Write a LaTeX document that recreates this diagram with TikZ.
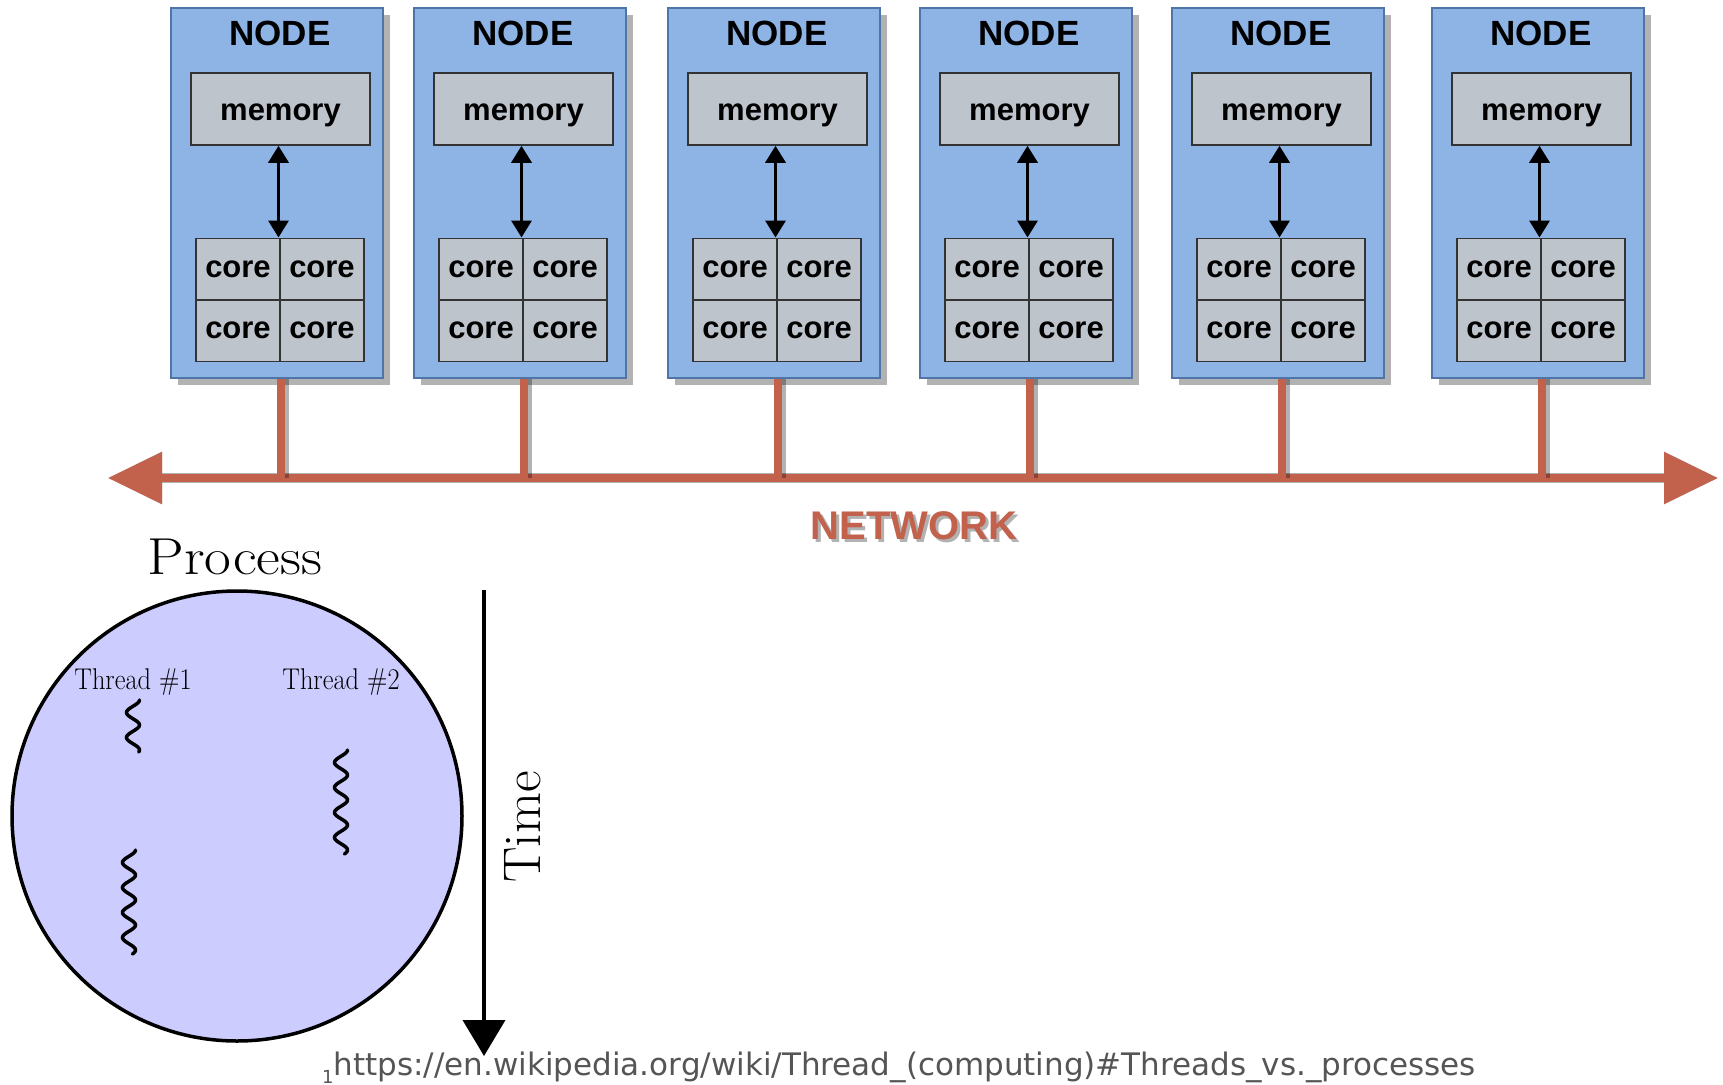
\documentclass[tikz,border=0pt]{standalone}
\usepackage{fontspec}
\newfontfamily\arialf{Liberation Sans}
\newfontfamily\dejavuf{DejaVu Sans}
\usetikzlibrary{arrows.meta,shadows}
\definecolor{nodeblue}{HTML}{8EB4E6}
\definecolor{nodeedge}{HTML}{4E74A8}
\definecolor{boxgray}{HTML}{BEC4CB}
\definecolor{netred}{HTML}{C2614C}
\definecolor{procfill}{HTML}{CCCCFF}
\definecolor{footgray}{HTML}{555555}
\tikzset{
  nodebox/.style={draw=nodeedge, line width=1.5pt, fill=nodeblue, minimum width=212pt, minimum height=370pt, inner sep=0pt,
    drop shadow={shadow xshift=7pt, shadow yshift=-7pt, opacity=0.6}},
  nodetitle/.style={font=\arialf\bfseries\fontsize{35}{35}\selectfont, inner sep=0pt},
  membox/.style={draw=black!80, line width=1.5pt, fill=boxgray, minimum width=179pt, minimum height=72pt, inner sep=0pt,
    text height=22pt, text depth=0pt, font=\arialf\bfseries\fontsize{31}{31}\selectfont},
  corebox/.style={draw=black!80, line width=1.5pt, fill=boxgray, minimum width=84pt, minimum height=61.5pt, inner sep=0pt,
    text height=16pt, text depth=0pt, font=\arialf\bfseries\fontsize{31}{31}\selectfont},
  biarrow/.style={line width=3.5pt, {Triangle[length=17pt,width=20pt]}-{Triangle[length=17pt,width=20pt]}},
  netline/.style={draw=netred, line width=8pt},
  netarrows/.style={{Triangle[length=54pt,width=50pt]}-{Triangle[length=54pt,width=50pt]}},
  netshadow/.style={draw=black, opacity=0.3, line width=10pt},
  nettext/.style={font=\arialf\bfseries\fontsize{40}{40}\selectfont, inner sep=0pt, text=netred},
  wave/.style={line width=3.5pt, line cap=round},
  timearrow/.style={line width=4pt, -{Triangle[length=36pt,width=42pt]}},
}
\begin{document}
\begin{tikzpicture}[x=1pt,y=-1pt]
\useasboundingbox (0,0) rectangle (1723,1084);
\fill[white] (0,0) rectangle (1723,1084);

% network line
\coordinate (netL) at (108,478);
\coordinate (netR) at (1718,478);
\draw[netshadow, netarrows, fill=black, shift={(3,7)}] (netL) -- (netR);
\draw[netline, netarrows, fill=netred] (netL) -- (netR);

\foreach \i/\cx in {1/281, 2/524, 3/778, 4/1030, 5/1282, 6/1542} {
  \node[nodebox] (b\i) at ({\cx-4},193) {};
  \node[nodetitle] (t\i) at ({\cx-1},33.5) {NODE};
  \node[membox] (m\i) at ({\cx-0.5},109) {memory};
  \node[corebox] (ca\i) at ({\cx-43},269) {core};
  \node[corebox] (cb\i) at ({\cx+41},269) {core};
  \node[corebox] (cc\i) at ({\cx-43},330.5) {core};
  \node[corebox] (cd\i) at ({\cx+41},330.5) {core};
  \coordinate (d\i) at (\cx,478);
  \draw[biarrow] ([xshift=-2pt]m\i.south) -- ([xshift=-2pt]m\i.south |- ca\i.north);
  \draw[draw=black, opacity=0.3, line width=8pt] ([xshift=4pt]b\i.south -| d\i) -- ([xshift=4pt]d\i);
  \draw[netline] (b\i.south -| d\i) -- (d\i);
}

% NETWORK label
\node[nettext, text=black, opacity=0.3] (netsh) at (917,529) {NETWORK};
\node[nettext] (netlab) at (914,526) {NETWORK};

% process
\node[anchor=base, font=\fontsize{52}{52}\selectfont, inner sep=0pt] (proc) at (235,574) {\scalebox{1.12}[1]{Process}};
\node[circle, draw, line width=3.5pt, fill=procfill, minimum size=450pt, inner sep=0pt] (pc) at (237,816) {};
\node[anchor=base, font=\fontsize{30}{30}\selectfont, inner sep=0pt] (th1) at (133,689) {\scalebox{0.88}[1]{Thread \#1}};
\node[anchor=base, font=\fontsize{30}{30}\selectfont, inner sep=0pt] (th2) at (341,689) {\scalebox{0.88}[1]{Thread \#2}};

\draw[wave] plot[domain=0:52, samples=70, smooth] ({133+6.5*sin(90+\x*14.4)},{700+\x});
\draw[wave] plot[domain=0:104, samples=120, smooth] ({129+6.5*sin(90+\x*14.4)},{850+\x});
\draw[wave] plot[domain=0:104, samples=120, smooth] ({341+6.5*sin(90+\x*14.4)},{750+\x});

% time
\coordinate (tt) at (484,590);
\coordinate (tb) at (484,1056);
\draw[timearrow] (tt) -- (tb);
\node[rotate=90, anchor=base, font=\fontsize{53}{53}\selectfont, inner sep=0pt] (time) at (540,827) {Time};

% footer
\node[anchor=base west, inner sep=0pt, text=footgray, font=\dejavuf\fontsize{31}{31}\selectfont] (foot) at (322,1075)
  {\raisebox{-8pt}{\fontsize{18}{18}\selectfont 1}https://en.wikipedia.org/wiki/Thread\_(computing)\#Threads\_vs.\_processes};
\end{tikzpicture}
\end{document}
